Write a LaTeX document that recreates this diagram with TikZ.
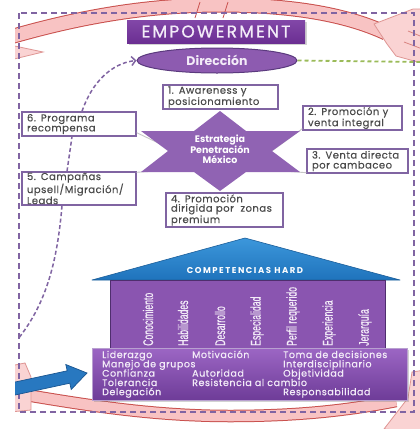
\documentclass[tikz,border=0pt]{standalone}
\usepackage{fontspec}
\usepackage{graphicx}
\setmainfont{Poppins}
\newfontfamily\boxfont[LetterSpace=5,FakeBold=0.3]{Poppins}
\newfontfamily\lowfont[LetterSpace=6,FakeBold=0.5]{Poppins}
\newfontfamily\empfont[LetterSpace=13,FakeBold=1]{Poppins}
\newfontfamily\hardfont[LetterSpace=18]{Poppins}
\newfontfamily\vfont[FakeBold=0.8]{Liberation Sans}
\usetikzlibrary{shapes.geometric,arrows.meta,shadows}
\definecolor{boxline}{HTML}{8064A2}
\definecolor{txtgray}{HTML}{4A4A4A}
\definecolor{bandpink}{HTML}{F8C3C3}
\definecolor{bandred}{HTML}{C9504D}
\definecolor{headpink}{HTML}{FAD3D3}
\definecolor{framepurple}{HTML}{8064A2}
\definecolor{dashgreen}{HTML}{9BBB59}
\definecolor{starpurple}{HTML}{9063B3}
\definecolor{ellfill}{HTML}{8D5BB0}
\definecolor{ellline}{HTML}{5B3A7E}
\definecolor{rooftop}{HTML}{3C97DB}
\definecolor{roofbot}{HTML}{1F73BC}
\definecolor{roofline}{HTML}{1B5E9A}
\definecolor{bldfill}{HTML}{8A55B0}
\definecolor{bldline}{HTML}{4F2E6E}
\definecolor{lowtop}{HTML}{9C66C4}
\definecolor{lowbot}{HTML}{6E3C98}
\definecolor{lowline}{HTML}{B9A0D0}
\definecolor{emptop}{HTML}{8247A8}
\definecolor{empbot}{HTML}{6B2F92}
\definecolor{arrowblue}{HTML}{2878C0}
\definecolor{arrowedge}{HTML}{1A5590}
\definecolor{lightwhite}{HTML}{F3ECF8}
\tikzset{
  txtbox/.style={draw=boxline, line width=1.4pt, fill=white, text=txtgray,
    font=\boxfont\fontsize{10}{10}\selectfont, align=left, inner xsep=5pt, inner ysep=0pt,
    minimum height=#1},
  txtbox/.default=24pt,
  pdash/.style={draw=boxline, line width=1.5pt, dash pattern=on 4pt off 2.5pt},
  grayline/.style={draw=black!22, line width=0.9pt},
  vtext/.style={rotate=90, anchor=west, inner sep=0pt, text=lightwhite,
    font=\vfont\fontsize{14}{14}\selectfont},
  lowtext/.style={anchor=base west, inner sep=0pt, text=lightwhite,
    font=\lowfont\fontsize{9.5}{9.5}\selectfont},
  bandedge/.style={draw=bandred, line width=15pt},
  bandfill/.style={draw=bandpink, line width=13pt},
  headshape/.style={fill=headpink, draw=bandred!60, line width=0.8pt}
}
\begin{document}
\begin{tikzpicture}[x=1pt,y=-1pt]
\useasboundingbox (0,0) rectangle (420,429);
\fill[white] (0,0) rectangle (420,429);
\begin{scope}
\clip (15,0) rectangle (420,429);
% ---- pink cycle bands ----
\draw[bandedge] (0,40) .. controls (80,16) and (150,5) .. (220,5) .. controls (290,5) and (345,14) .. (386,33);
\draw[bandfill] (0,40) .. controls (80,16) and (150,5) .. (220,5) .. controls (290,5) and (345,14) .. (386,33);
\draw[bandred, line width=0.8pt] (200,2) -- (195,18) (228,2) -- (223,18);
\draw[headshape] (374,24) -- (413,9) -- (425,9) -- (425,64) -- (396,56) -- (387,44) -- cycle;
\draw[bandred!70, line width=0.8pt] (408,31) -- (425,38) (404,42) -- (425,50);
\draw[headshape] (10,45) -- (43,52) -- (10,60) -- cycle;
\draw[bandedge, line width=12.5pt] (20,394) .. controls (80,404) and (150,416) .. (230,416) .. controls (300,416) and (350,410) .. (396,401);
\draw[bandfill, line width=10.5pt] (20,394) .. controls (80,404) and (150,416) .. (230,416) .. controls (300,416) and (350,410) .. (396,401);
\draw[headshape] (384,429) -- (408,398) -- (412,372) -- (425,370) -- (425,432) -- cycle;
\draw[headshape] (10,366) -- (25,363) -- (31,377) -- (31,410) -- (10,412) -- cycle;
% ---- dashed frame ----
\draw[framepurple, line width=1.8pt, dash pattern=on 6pt off 4pt] (19,13) rectangle (414,412);
% ---- boxes ----
\node[txtbox, text width=105pt] (b1) at (220.5,97) {1. Awareness y\\posicionamiento};
\node[txtbox, text width=89pt] (b2) at (352.5,118) {2. Promoción y\\venta integral};
\node[txtbox, text width=91pt] (b3) at (357.5,161) {3. Venta directa\\por cambaceo};
\node[txtbox=34pt, text width=107pt, font=\boxfont\fontsize{10}{9.4}\selectfont] (b4) at (224.5,210) {4. Promoción\\dirigida por\ \ zonas\\premium};
\node[txtbox=33pt, text width=104pt, font=\boxfont\fontsize{10}{9.4}\selectfont] (b5) at (79,188.5) {5. Campañas\\upsell/Migración/\\Leads};
\node[txtbox, text width=104pt] (b6) at (79,124) {6. Programa\\recompensa};
% ---- gray links behind star ----
\coordinate (g6) at (175,151);
\coordinate (g2) at (265,156);
\coordinate (g5) at (156,171);
\coordinate (g3) at (284,171);
\draw[grayline] ([yshift=4pt]b6.south east) -- (g6);
\draw[grayline] ([yshift=2pt]b2.south west) -- (g2);
\draw[grayline] ([yshift=-1pt]b5.north east) -- (g5);
\draw[grayline] ([yshift=1pt]b3.south west) -- (g3);
% ---- star ----
\fill[starpurple] (220,111) -- (246,131) -- (300,131) -- (272,151) -- (300,172) -- (246,172)
  -- (220,191) -- (194,172) -- (141,172) -- (168,151) -- (141,131) -- (194,131) -- cycle;
\node[text=white, font=\bfseries\fontsize{9.5}{10}\selectfont, align=center, inner sep=0pt] (st) at (220,149)
  {Estrategia\\Penetración\\México};
% ---- direction ellipse and green line ----
\node[ellipse, fill=ellfill, draw=ellline, line width=1pt, minimum width=160pt, minimum height=25pt,
  text=lightwhite, font=\bfseries\fontsize{12.5}{12.5}\selectfont, inner sep=0pt] (dir) at (217,60.5) {Dirección};
\coordinate (gend) at (421,62);
\draw[dashgreen, line width=1.8pt, dash pattern=on 4pt off 3pt] (dir.east) -- (gend);
% ---- dashed purple connectors ----
\draw[pdash, -{Straight Barb[length=4pt,width=9pt]}] ([xshift=3pt]b6.north) .. controls (92,82) and (112,63) .. (dir.west);
\draw[pdash] ([xshift=-12pt]b5.north) -- ([xshift=-7pt]b6.south);
\coordinate (fr) at (18,339);
\draw[pdash] ([xshift=-17pt]b5.south) .. controls (57,265) and (45,305) .. (fr);
% ---- house: roof ----
\coordinate (rA) at (245,238);
\coordinate (rL) at (92,280);
\coordinate (rR) at (400,280);
\shade[top color=rooftop, bottom color=roofbot] (rA) -- (rR) -- (rL) -- cycle;
\draw[roofline, line width=0.6pt, line join=round] (rA) -- (rR) -- (rL) -- cycle;
\node[text=white, font=\hardfont\bfseries\fontsize{8.5}{8.5}\selectfont, inner sep=0pt] (hard) at (245,270) {COMPETENCIAS HARD};
% ---- house: body ----
\node[draw=bldline, line width=0.8pt, fill=bldfill, minimum width=275pt, minimum height=68pt, inner sep=0pt] (bld) at (248,314) {};
\foreach \n/\x/\t in {1/148/Conocimiento, 2/183/Habilidades, 3/220/Desarrollo, 4/257/Especialidad,
  5/293/Perfil requerido, 6/329/Experiencia, 7/365/Jerarquía}
  \node[vtext] (v\n) at (\x,346) {\scalebox{0.62}[1]{\t}};
% ---- lower box ----
\node[draw=lowline, line width=0.6pt, top color=lowtop, bottom color=lowbot, minimum width=315pt, minimum height=52pt,
  inner sep=0pt, drop shadow={opacity=0.35, shadow xshift=1.5pt, shadow yshift=-2pt}] (low) at (249.5,374) {};
\foreach \n/\x/\y/\t in {1/102/358/Liderazgo, 2/192/358/Motivación, 3/283/358/Toma de decisiones,
  4/102/367.3/Manejo de grupos, 5/283/367.3/Interdisciplinario,
  6/102/376.6/Confianza, 7/192/376.6/Autoridad, 8/283/376.6/Objetividad,
  9/102/386/Tolerancia, 10/192/386/Resistencia al cambio,
  11/102/395.2/Delegación, 12/283/395.2/Responsabilidad}
  \node[lowtext] (t\n) at (\x,\y) {\t};
% ---- blue arrow ----
\draw[fill=arrowblue, draw=arrowedge, line width=0.7pt, line join=miter]
  (8.7,383.4) -- (67.2,370.8) -- (65.8,364.5) -- (87,373) -- (71.2,389.5) -- (69.8,383.2) -- (11.3,395.8) -- cycle;
% ---- EMPOWERMENT ----
\node[top color=emptop, bottom color=empbot, minimum width=178pt, minimum height=23pt, inner sep=0pt,
  text=lightwhite, font=\empfont\fontsize{17}{17}\selectfont,
  drop shadow={opacity=0.35, shadow xshift=1.5pt, shadow yshift=-2pt}] (emp) at (216,31.5) {EMPOWERMENT};
\end{scope}
\end{tikzpicture}
\end{document}
